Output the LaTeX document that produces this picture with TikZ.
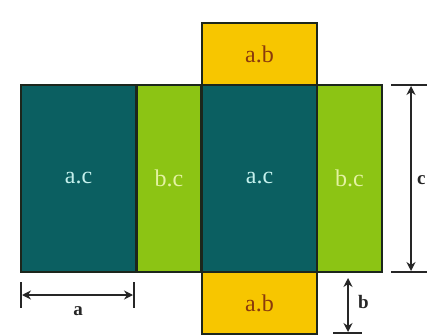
\documentclass[tikz,border=0pt]{standalone}
\usepackage{fontspec}
\setmainfont{Liberation Serif}
\usetikzlibrary{arrows.meta}
\definecolor{teal1}{HTML}{0B5F61}
\definecolor{lime1}{HTML}{8CC414}
\definecolor{gold1}{HTML}{F7C600}
\definecolor{edge1}{HTML}{1C261C}
\definecolor{txtac}{HTML}{C4F0EC}
\definecolor{txtbc}{HTML}{E4F2A2}
\definecolor{txtab}{HTML}{8A3A0C}
\definecolor{dim1}{HTML}{262626}
\begin{document}
\begin{tikzpicture}[x=1pt,y=-1pt,
  panel/.style={draw=edge1,line width=2.8pt,inner sep=0pt,outer sep=0pt,
    font=\fontsize{24}{27}\selectfont},
  wide/.style={panel,fill=teal1,text=txtac,minimum width=115pt,minimum height=187pt},
  narrow/.style={panel,fill=lime1,text=txtbc,minimum width=65pt,minimum height=187pt},
  flap/.style={panel,fill=gold1,text=txtab,minimum width=115pt,minimum height=62pt},
  dimline/.style={draw=dim1,line width=2.6pt},
  dimarrow/.style={dimline,{Stealth[length=9pt,width=9pt]}-{Stealth[length=9pt,width=9pt]}},
  dimlabel/.style={text=dim1,font=\bfseries\fontsize{19}{22}\selectfont,inner sep=0pt}]
\useasboundingbox (0,0) rectangle (427,336);
\fill[white] (0,0) rectangle (427,336);
% panels
\node[wide]   (p1) at (78.5,178.5) {a.c};
\node[narrow] (p2) at (169,178.5)  {b.c};
\node[wide]   (p3) at (259.5,178.5) {a.c};
\node[narrow] (p4) at (349.5,178.5) {b.c};
\node[flap]   (ft) at (259.5,54) {a.b};
\node[flap]   (fb) at (259.5,303) {a.b};
% dimension a
\coordinate (a1t) at (21,282); \coordinate (a1b) at (21,308);
\coordinate (a2t) at (134,282); \coordinate (a2b) at (134,308);
\coordinate (a1) at (22,295); \coordinate (a2) at (133,295);
\draw[dimline] (a1t) -- (a1b);
\draw[dimline] (a2t) -- (a2b);
\draw[dimarrow] (a1) -- (a2);
\node[dimlabel] (la) at (78,311) {a};
% dimension c
\coordinate (c1l) at (391,85); \coordinate (c1r) at (430,85);
\coordinate (c2l) at (391,272); \coordinate (c2r) at (430,272);
\coordinate (c1) at (411,86); \coordinate (c2) at (411,271);
\draw[dimline] (c1l) -- (c1r);
\draw[dimline] (c2l) -- (c2r);
\draw[dimarrow] (c1) -- (c2);
\node[dimlabel,anchor=west] (lc) at (417,180) {c};
% dimension b
\coordinate (b1) at (348,278); \coordinate (b2) at (348,332);
\coordinate (bbl) at (333,333); \coordinate (bbr) at (362,333);
\draw[dimarrow] (b1) -- (b2);
\draw[dimline] (bbl) -- (bbr);
\node[dimlabel,anchor=west] (lb) at (358,302) {b};
\end{tikzpicture}
\end{document}
